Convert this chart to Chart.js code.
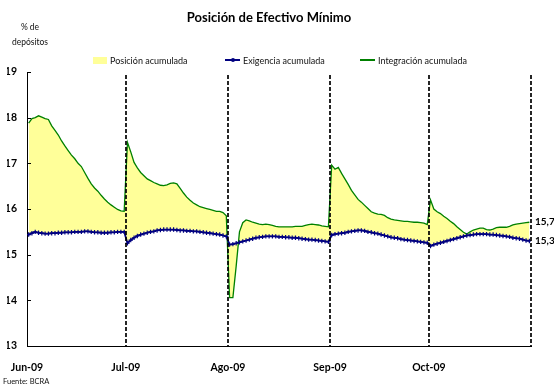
<!DOCTYPE html>
<html>
<head>
<meta charset="utf-8">
<script src="https://cdn.jsdelivr.net/npm/chart.js@4.4.1/dist/chart.umd.min.js"></script>
<style>
  body { margin: 0; background: #fff; font-family: Lato, "DejaVu Sans", sans-serif; color: #111; }
  #wrap { position: relative; width: 554px; height: 389px; overflow: hidden; }
  #unit { position: absolute; left: 8px; top: 20px; width: 44px; text-align: center; font-size: 8.5px; line-height: 15px; }
  #source { position: absolute; left: 3px; top: 377px; font-size: 7.5px; }
  .item { position: absolute; top: 54px; height: 12px; display: flex; align-items: center; font-size: 9px; white-space: nowrap; }
  .swatch { display: inline-block; margin-right: 3px; position: relative; }
</style>
</head>
<body>
<div id="wrap">
  <canvas id="chart" width="554" height="389"></canvas>
  <div id="unit">% de<br>depósitos</div>
  <div id="legend"></div>
  <div id="source">Fuente: BCRA</div>
</div>
<script>
'use strict';

// month edges on the day axis (day 0 = 1 Jun 2009) and their labels
let monthEdges = [-0.5, 29.5, 60.5, 91.5, 121.5, 152.5];
let monthLabels = ['Jun-09', 'Jul-09', 'Ago-09', 'Sep-09', 'Oct-09'];
let yTicks = [13, 14, 15, 16, 17, 18, 19];

// Exigencia acumulada, daily, Jun..Oct 2009
let exigJun = [15.44, 15.47, 15.50, 15.48, 15.47, 15.46, 15.46, 15.47, 15.47, 15.48, 15.48, 15.49, 15.49, 15.49, 15.50,
  15.50, 15.50, 15.51, 15.51, 15.50, 15.49, 15.49, 15.48, 15.48, 15.48, 15.49, 15.49, 15.50, 15.50, 15.50];
let exigJul = [15.25, 15.32, 15.37, 15.41, 15.44, 15.46, 15.48, 15.50, 15.51, 15.53, 15.54, 15.55, 15.55, 15.55, 15.55,
  15.54, 15.53, 15.53, 15.52, 15.52, 15.51, 15.51, 15.50, 15.49, 15.48, 15.47, 15.46, 15.45, 15.44, 15.42, 15.40];
let exigAgo = [15.22, 15.23, 15.25, 15.27, 15.29, 15.31, 15.33, 15.35, 15.37, 15.38, 15.39, 15.40, 15.40, 15.40, 15.40,
  15.39, 15.39, 15.38, 15.38, 15.37, 15.37, 15.36, 15.35, 15.34, 15.33, 15.33, 15.32, 15.31, 15.30, 15.29, 15.28];
let exigSep = [15.43, 15.45, 15.46, 15.47, 15.48, 15.50, 15.51, 15.52, 15.53, 15.53, 15.52, 15.50, 15.49, 15.47, 15.46,
  15.44, 15.42, 15.40, 15.38, 15.37, 15.36, 15.34, 15.33, 15.32, 15.31, 15.30, 15.29, 15.28, 15.27, 15.26];
let exigOct = [15.19, 15.22, 15.24, 15.26, 15.28, 15.30, 15.32, 15.34, 15.36, 15.38, 15.40, 15.42, 15.43, 15.44, 15.45,
  15.45, 15.45, 15.45, 15.44, 15.44, 15.43, 15.42, 15.41, 15.40, 15.39, 15.37, 15.36, 15.35, 15.33, 15.31, 15.30];

// Integración acumulada, daily
let integJun = [17.88, 17.98, 18.00, 18.04, 18.01, 17.98, 17.96, 17.82, 17.72, 17.62, 17.49, 17.38, 17.28, 17.18, 17.10,
  17.00, 16.93, 16.80, 16.67, 16.55, 16.46, 16.39, 16.30, 16.22, 16.15, 16.09, 16.04, 15.99, 15.96, 15.95];
let integJul = [17.46, 17.25, 17.02, 16.90, 16.80, 16.73, 16.66, 16.62, 16.58, 16.55, 16.52, 16.51, 16.53, 16.56, 16.57,
  16.55, 16.45, 16.35, 16.26, 16.19, 16.13, 16.09, 16.05, 16.03, 16.01, 15.99, 15.97, 15.95, 15.95, 15.92, 15.85];
let integAgo = [14.06, 14.06, 14.75, 15.50, 15.70, 15.76, 15.74, 15.71, 15.69, 15.67, 15.66, 15.67, 15.66, 15.64, 15.62,
  15.61, 15.61, 15.61, 15.61, 15.61, 15.62, 15.62, 15.62, 15.64, 15.66, 15.67, 15.66, 15.65, 15.63, 15.62, 15.61];
let integSep = [16.96, 16.87, 16.91, 16.78, 16.66, 16.54, 16.41, 16.31, 16.21, 16.15, 16.08, 16.01, 15.94, 15.91, 15.89,
  15.88, 15.86, 15.81, 15.78, 15.76, 15.75, 15.74, 15.73, 15.73, 15.72, 15.71, 15.71, 15.70, 15.69, 15.66];
let integOct = [16.20, 16.00, 15.94, 15.90, 15.84, 15.79, 15.73, 15.68, 15.61, 15.55, 15.49, 15.45, 15.50, 15.54, 15.56,
  15.58, 15.58, 15.55, 15.54, 15.56, 15.59, 15.60, 15.60, 15.60, 15.62, 15.65, 15.67, 15.68, 15.69, 15.70, 15.71];

let exigencia = [].concat(exigJun, exigJul, exigAgo, exigSep, exigOct);
let integracion = [].concat(integJun, integJul, integAgo, integSep, integOct);

const NAVY = '#000080';
const GREEN = '#008000';
const YELLOW = '#FFFF99';

function toPoints(values) {
  return values.map((v, i) => ({ x: i, y: v }));
}

// legend as html
let legendItems = [
  { text: 'Posición acumulada', kind: 'box', color: YELLOW, left: 93 },
  { text: 'Exigencia acumulada', kind: 'marker', color: NAVY, left: 225 },
  { text: 'Integración acumulada', kind: 'line', color: GREEN, left: 360 }
];
let legendElem = document.getElementById('legend');
legendItems.forEach(item => {
  let div = document.createElement('div');
  div.className = 'item';
  div.style.left = item.left + 'px';
  let sw = document.createElement('span');
  sw.className = 'swatch';
  if (item.kind === 'box') {
    sw.style.cssText = 'width:14px;height:7px;background:' + item.color;
  } else {
    sw.style.cssText = 'width:15px;height:1.5px;background:' + item.color;
    if (item.kind === 'marker') {
      let dot = document.createElement('span');
      dot.style.cssText = 'position:absolute;left:5.5px;top:-1.5px;width:4px;height:4px;background:' + item.color + ';border-radius:2px';
      sw.appendChild(dot);
    }
  }
  div.appendChild(sw);
  div.appendChild(document.createTextNode(item.text));
  legendElem.appendChild(div);
});

// dashed month separators, inward y ticks and end value labels
const monthMarks = {
  id: 'monthMarks',
  afterDatasetsDraw(chart) {
    const { ctx, chartArea, scales } = chart;
    const x = scales.x, y = scales.y;
    ctx.save();
    ctx.strokeStyle = '#000';
    ctx.lineWidth = 1.7;
    ctx.setLineDash([4, 2]);
    monthEdges.slice(1).forEach(v => {
      const px = Math.round(x.getPixelForValue(v));
      ctx.beginPath();
      ctx.moveTo(px, chartArea.top + 3);
      ctx.lineTo(px, chartArea.bottom);
      ctx.stroke();
    });
    ctx.setLineDash([]);
    ctx.lineWidth = 1;
    yTicks.forEach(t => {
      const py = Math.round(y.getPixelForValue(t)) + 0.5;
      ctx.beginPath();
      ctx.moveTo(chartArea.left, py);
      ctx.lineTo(chartArea.left + 4, py);
      ctx.stroke();
    });
    ctx.fillStyle = '#000';
    ctx.font = 'bold 10px Lato';
    ctx.textBaseline = 'middle';
    ctx.textAlign = 'left';
    [integracion, exigencia].forEach(series => {
      const last = series[series.length - 1];
      ctx.fillText(last.toFixed(1).replace('.', ','), chartArea.right + 4, y.getPixelForValue(last));
    });
    ctx.restore();
  }
};

function renderChart() {
  let canvasElem = document.getElementById('chart');
  Chart.defaults.font.family = 'Lato';
  Chart.defaults.color = '#000';

  let chartDatasets = [
    {
      label: 'Exigencia acumulada',
      data: toPoints(exigencia),
      borderColor: NAVY,
      backgroundColor: NAVY,
      borderWidth: 1.8,
      pointStyle: 'cross',
      pointRadius: 2.2,
      pointBorderWidth: 1.2,
      pointBorderColor: NAVY,
      fill: false
    },
    {
      label: 'Integración acumulada',
      data: toPoints(integracion),
      borderColor: GREEN,
      borderWidth: 1.3,
      pointRadius: 0,
      fill: { target: 0, above: YELLOW, below: YELLOW }
    }
  ];

  let chartOptions = {
    responsive: false,
    animation: false,
    layout: { padding: { left: 7, right: 23, bottom: 15, top: 0 } },
    plugins: {
      legend: { display: false },
      tooltip: { enabled: false },
      title: {
        display: true,
        text: 'Posición de Efectivo Mínimo',
        font: { size: 13, weight: 'bold' },
        padding: { top: 10, bottom: 46.4 }
      }
    },
    scales: {
      x: {
        type: 'linear',
        min: monthEdges[0],
        max: monthEdges[monthEdges.length - 1],
        afterBuildTicks: axis => { axis.ticks = monthEdges.map(v => ({ value: v })); },
        afterFit: axis => {
          axis.height = 28;
          axis.paddingLeft = 0;
          axis.paddingRight = 0;
        },
        ticks: {
          autoSkip: false,
          maxRotation: 0,
          padding: 15,
          font: { size: 10.5, weight: 'bold' },
          callback: (value, index) => monthLabels[index] || ''
        },
        grid: { display: false, drawTicks: false },
        border: { display: true, color: '#000', width: 1 }
      },
      y: {
        min: yTicks[0],
        max: yTicks[yTicks.length - 1],
        afterBuildTicks: axis => { axis.ticks = yTicks.map(v => ({ value: v })); },
        afterFit: axis => { axis.width = 20; },
        ticks: { padding: 10, font: { size: 10.5, weight: 'bold' } },
        grid: { display: false, drawTicks: false },
        border: { display: true, color: '#000', width: 1 }
      }
    }
  };

  new Chart(canvasElem, {
    type: 'line',
    data: { datasets: chartDatasets },
    options: chartOptions,
    plugins: [monthMarks]
  });
}

renderChart();
</script>
</body>
</html>
